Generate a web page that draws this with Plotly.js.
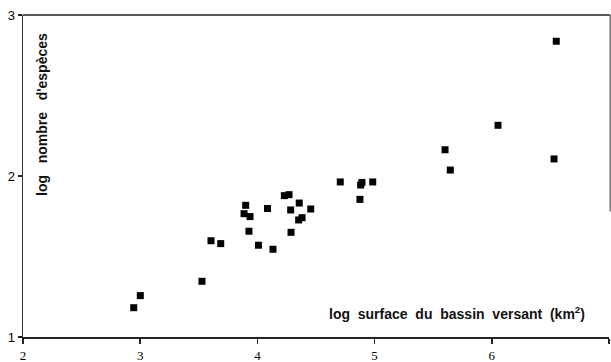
<!DOCTYPE html>
<html>
<head>
<meta charset="utf-8">
<script src="https://cdn.plot.ly/plotly-3.0.1.min.js"></script>
<style>html,body{margin:0;padding:0;background:#fff;}#chart{width:611px;height:362px;}</style>
</head>
<body>
<div id="chart"></div>
<script>
// log surface du bassin versant (km2)
const logSurface = [2.945, 3.001, 3.527, 3.604, 3.687, 3.900, 3.886, 3.937, 3.928, 4.009,
                    4.133, 4.086, 4.230, 4.270, 4.357, 4.284, 4.455, 4.352, 4.381, 4.287,
                    4.707, 4.881, 4.892, 4.984, 4.875, 5.601, 5.646, 6.053, 6.531, 6.550];
// log nombre d'espèces
const logEspeces = [1.182, 1.257, 1.346, 1.598, 1.580, 1.818, 1.766, 1.748, 1.657, 1.570,
                    1.545, 1.798, 1.878, 1.884, 1.832, 1.789, 1.795, 1.727, 1.741, 1.650,
                    1.963, 1.944, 1.960, 1.963, 1.855, 2.163, 2.037, 2.315, 2.106, 2.837];
const xTicks = [2, 3, 4, 5, 6, 7];
const yTicks = [1, 2, 3];
const xTitle = "log&nbsp; surface&nbsp; du&nbsp; bassin&nbsp; versant&nbsp; (km<sup>2</sup>)";
const yTitle = "log&nbsp;&nbsp; nombre&nbsp;&nbsp; d'espèces";

const trace = {
  x: logSurface, y: logEspeces, type: 'scatter', mode: 'markers',
  marker: {symbol: 'square', size: 7, color: '#000'},
  hoverinfo: 'skip'
};
const layout = {
  width: 611, height: 362,
  margin: {l: 23, r: 2, t: 15, b: 25},
  paper_bgcolor: '#fff', plot_bgcolor: '#fff',
  showlegend: false,
  xaxis: {
    range: [2, 7], tickvals: xTicks, ticktext: xTicks.map(String),
    showgrid: false, zeroline: false, showline: true, linecolor: '#222', linewidth: 2,
    ticks: 'outside', ticklen: 5, tickwidth: 1.5, tickcolor: '#222',
    tickfont: {family: 'Liberation Serif, serif', size: 13, color: '#000'}
  },
  yaxis: {
    range: [1, 3], tickvals: yTicks, ticktext: yTicks.map(String),
    showgrid: false, zeroline: false, showline: true, linecolor: '#333', linewidth: 1.5,
    ticks: 'outside', ticklen: 4, tickwidth: 1.5, tickcolor: '#222',
    tickfont: {family: 'Liberation Sans, Arial, sans-serif', size: 13, color: '#000'}
  },
  shapes: [
    {type: 'line', xref: 'paper', yref: 'paper', x0: 0, x1: 1.002, y0: 1, y1: 1,
     line: {color: '#222', width: 1.5}},
    {type: 'line', xref: 'paper', yref: 'paper', x0: 1.002, x1: 1.002, y0: 1, y1: 0.39,
     line: {color: '#555', width: 1.2}}
  ],
  annotations: [
    {text: yTitle, xref: 'paper', yref: 'paper', x: 0.0324, y: 0.6925, textangle: -90,
     showarrow: false, xanchor: 'center', yanchor: 'middle',
     font: {family: 'Liberation Sans, Arial, sans-serif', size: 14, color: '#111', weight: 'bold'}},
    {text: xTitle, xref: 'paper', yref: 'paper', x: 0.7406, y: 0.0745,
     showarrow: false, xanchor: 'center', yanchor: 'middle',
     font: {family: 'Liberation Sans, Arial, sans-serif', size: 14, color: '#111', weight: 'bold'}}
  ]
};
Plotly.newPlot('chart', [trace], layout, {staticPlot: true, displayModeBar: false});
</script>
</body>
</html>
